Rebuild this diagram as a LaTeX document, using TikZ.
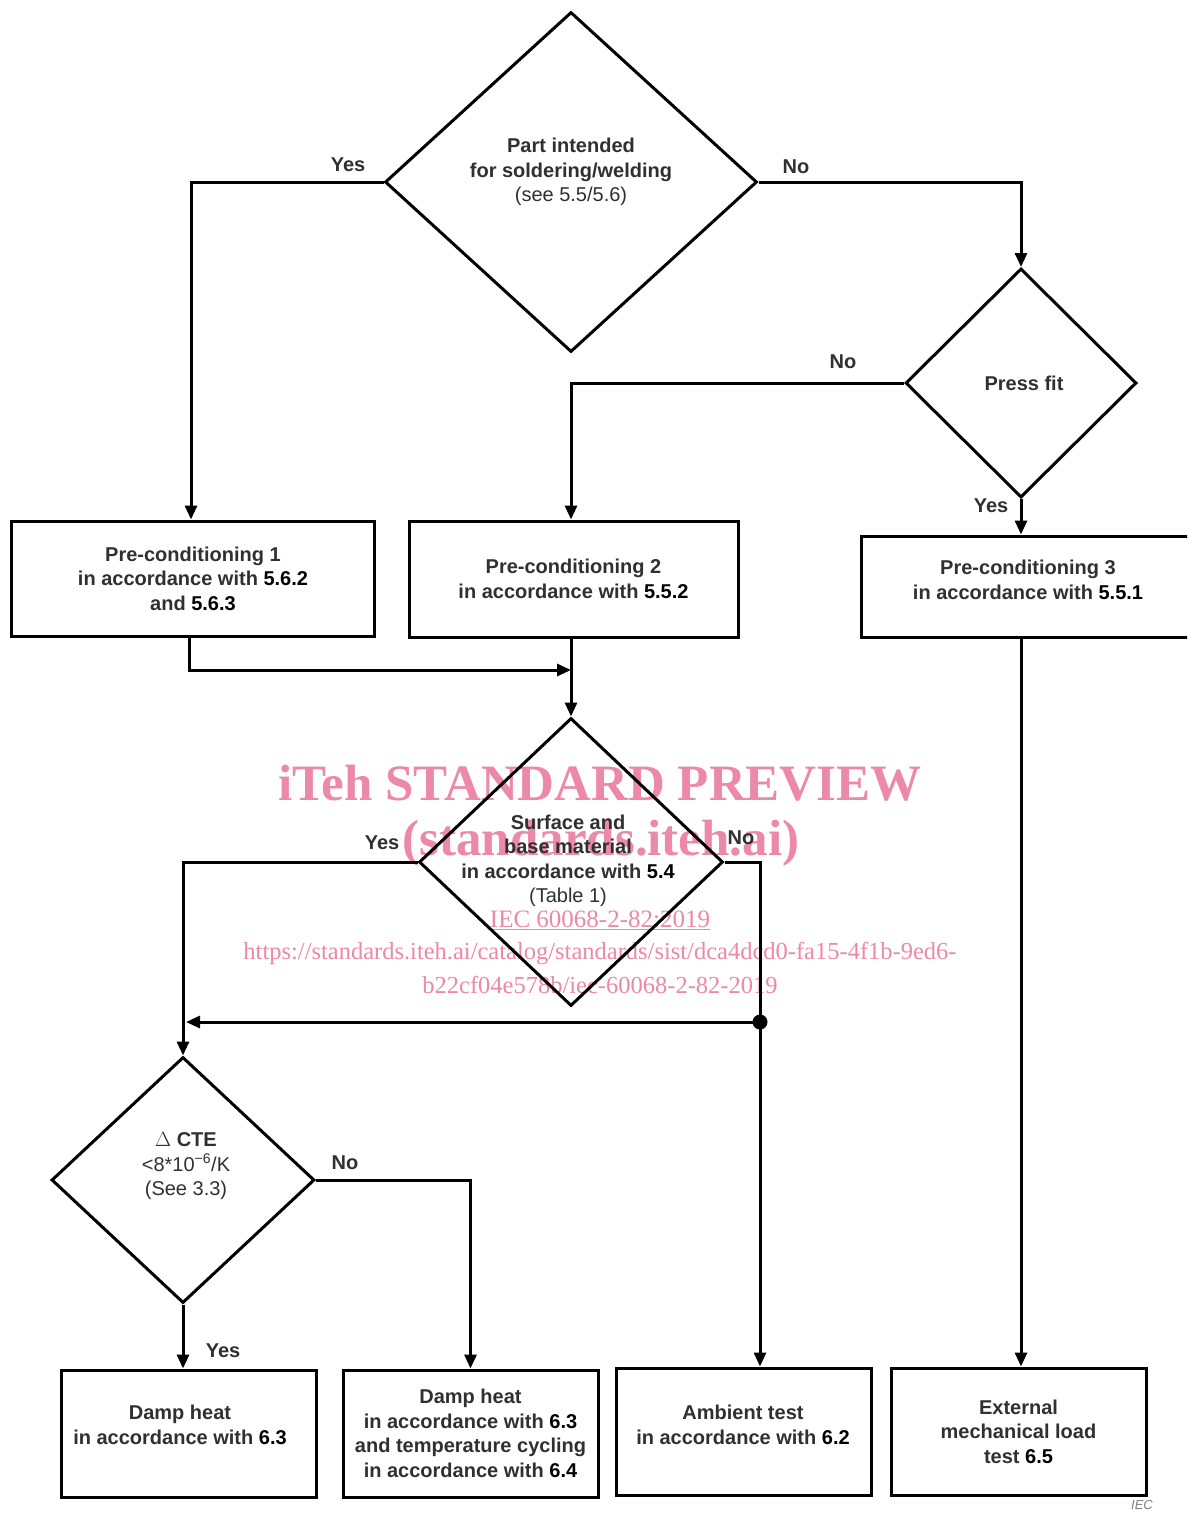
\documentclass[tikz,border=0pt]{standalone}
\usepackage{fontspec}
\setmainfont{Liberation Sans}
\newfontfamily\wmfont{Liberation Serif}
\usetikzlibrary{shapes.geometric,arrows.meta,calc}
\definecolor{txt}{HTML}{303030}
\definecolor{wm}{HTML}{EC88A8}
\begin{document}
\begin{tikzpicture}[x=1pt,y=-1pt,line width=3pt,
  box/.style={draw,line width=3pt,align=center,inner sep=0pt,text=txt,font=\bfseries\fontsize{20}{24.5}\selectfont},
  dia/.style={draw,diamond,line width=3pt,inner sep=0pt},
  dtxt/.style={align=center,text=txt,font=\fontsize{20}{24.5}\selectfont},
  lbl/.style={text=txt,font=\bfseries\fontsize{20}{24}\selectfont},
  arr/.style={-{Triangle[length=14pt,width=12pt]}},
  wmk/.style={text=wm,align=center}]
\useasboundingbox (0,0) rectangle (1187,1513);
\clip (0,0) rectangle (1187,1513);
\fill[white] (0,0) rectangle (1187,1513);

% watermark (behind the diagram)
\node[wmk,font=\wmfont\bfseries\fontsize{51}{51}\selectfont] (wm1) at (600,783) {iTeh STANDARD PREVIEW};
\node[wmk,font=\wmfont\bfseries\fontsize{51}{51}\selectfont] (wm2) at (601,843) {(standards.iteh.ai)};
\node[wmk,font=\wmfont\fontsize{25}{25}\selectfont] (wm3) at (600,920) {\underline{IEC 60068-2-82:2019}};
\node[wmk,font=\wmfont\fontsize{24.5}{25}\selectfont] (wm4) at (600,954) {https://standards.iteh.ai/catalog/standards/sist/dca4dcd0-fa15-4f1b-9ed6-};
\node[wmk,font=\wmfont\fontsize{24.5}{25}\selectfont] (wm5) at (600,985) {b22cf04e578b/iec-60068-2-82-2019};

% decisions
\node[dia,minimum width=372pt,minimum height=340pt] (d1) at (571,182) {};
\node[dtxt] (d1t) at (571,172) {\textbf{Part intended}\\\textbf{for soldering/welding}\\(see 5.5/5.6)};
\node[dia,minimum width=231pt,minimum height=229pt] (d2) at (1021,383) {};
\node[dtxt] (d2t) at (1024,383) {\textbf{Press fit}};
\node[dia,minimum width=304pt,minimum height=288pt] (d3) at (571,862) {};
\node[dtxt] (d3t) at (568,861) {\textbf{Surface and}\\\textbf{base material}\\\textbf{in accordance with \textcolor{black}{5.4}}\\(Table 1)};
\node[dia,minimum width=263pt,minimum height=246pt] (d4) at (183,1180) {};
\node[dtxt] (d4t) at (186,1166) {$\Delta$ \textbf{CTE}\\<8*10\textsuperscript{−6}/K\\(See 3.3)};

% boxes
\node[box,minimum width=363pt,minimum height=115pt] (b1) at (193,578.5) {Pre-conditioning 1\\in accordance with \textcolor{black}{5.6.2}\\and \textcolor{black}{5.6.3}};
\node[box,minimum width=329pt,minimum height=116pt] (b2) at (573.5,579) {Pre-conditioning 2\\in accordance with \textcolor{black}{5.5.2}};
\node[box,minimum width=339pt,minimum height=101pt] (b3) at (1030.5,586.5) {};
\node[dtxt,font=\bfseries\fontsize{20}{24.5}\selectfont] (b3t) at (1028,580) {Pre-conditioning 3\\in accordance with \textcolor{black}{5.5.1}};
\node[box,minimum width=255pt,minimum height=127pt] (b4) at (188.5,1433.5) {};
\node[dtxt,font=\bfseries\fontsize{20}{24.5}\selectfont] (b4t) at (180,1425) {Damp heat\\in accordance with \textcolor{black}{6.3}};
\node[box,minimum width=255pt,minimum height=127pt] (b5) at (470.5,1433.5) {Damp heat\\in accordance with \textcolor{black}{6.3}\\and temperature cycling\\in accordance with \textcolor{black}{6.4}};
\node[box,minimum width=255pt,minimum height=127pt] (b6) at (743.5,1431.5) {};
\node[dtxt,font=\bfseries\fontsize{20}{24.5}\selectfont] (b6t) at (743,1425) {Ambient test\\in accordance with \textcolor{black}{6.2}};
\node[box,minimum width=255pt,minimum height=127pt] (b7) at (1018.5,1431.5) {External\\mechanical load\\test \textcolor{black}{6.5}};

% connectors
\coordinate (j1) at (571,670);
\coordinate (dot) at (760,1022);
\draw[arr] (d1.west) -| ([xshift=-2pt]b1.north);
\draw[arr] (d1.east) -| (d2.north);
\draw[arr] (d2.west) -| (d3.north |- b2.north);
\draw[arr] (d2.south) -- (d2.south |- b3.north);
\draw[arr] ([xshift=-4pt]b1.south) |- (j1);
\draw[arr] (d3.north |- b2.south) -- (d3.north);
\draw[arr] (d3.west) -| (d4.north);
\draw[arr] (d3.east) -| (dot) -- (dot |- b6.north);
\draw[arr] (dot) -- ($(dot -| d4.north)+(3,0)$);
\fill (dot) circle (7.5pt);
\draw[arr] (d4.east) -| (b5.north);
\draw[arr] (d4.south) -- (d4.south |- b4.north);
\draw[arr] (d2.south |- b3.south) -- (d2.south |- b7.north);

% labels
\node[lbl] (l1) at (348,165) {Yes};
\node[lbl] (l2) at (796,167) {No};
\node[lbl] (l3) at (843,362) {No};
\node[lbl] (l4) at (991,506) {Yes};
\node[lbl] (l5) at (382,843) {Yes};
\node[lbl] (l6) at (741,838) {No};
\node[lbl] (l7) at (345,1163) {No};
\node[lbl] (l8) at (223,1351) {Yes};
\node[text=gray,font=\itshape\fontsize{13}{13}\selectfont] (iec) at (1142,1505) {IEC};
\end{tikzpicture}
\end{document}
